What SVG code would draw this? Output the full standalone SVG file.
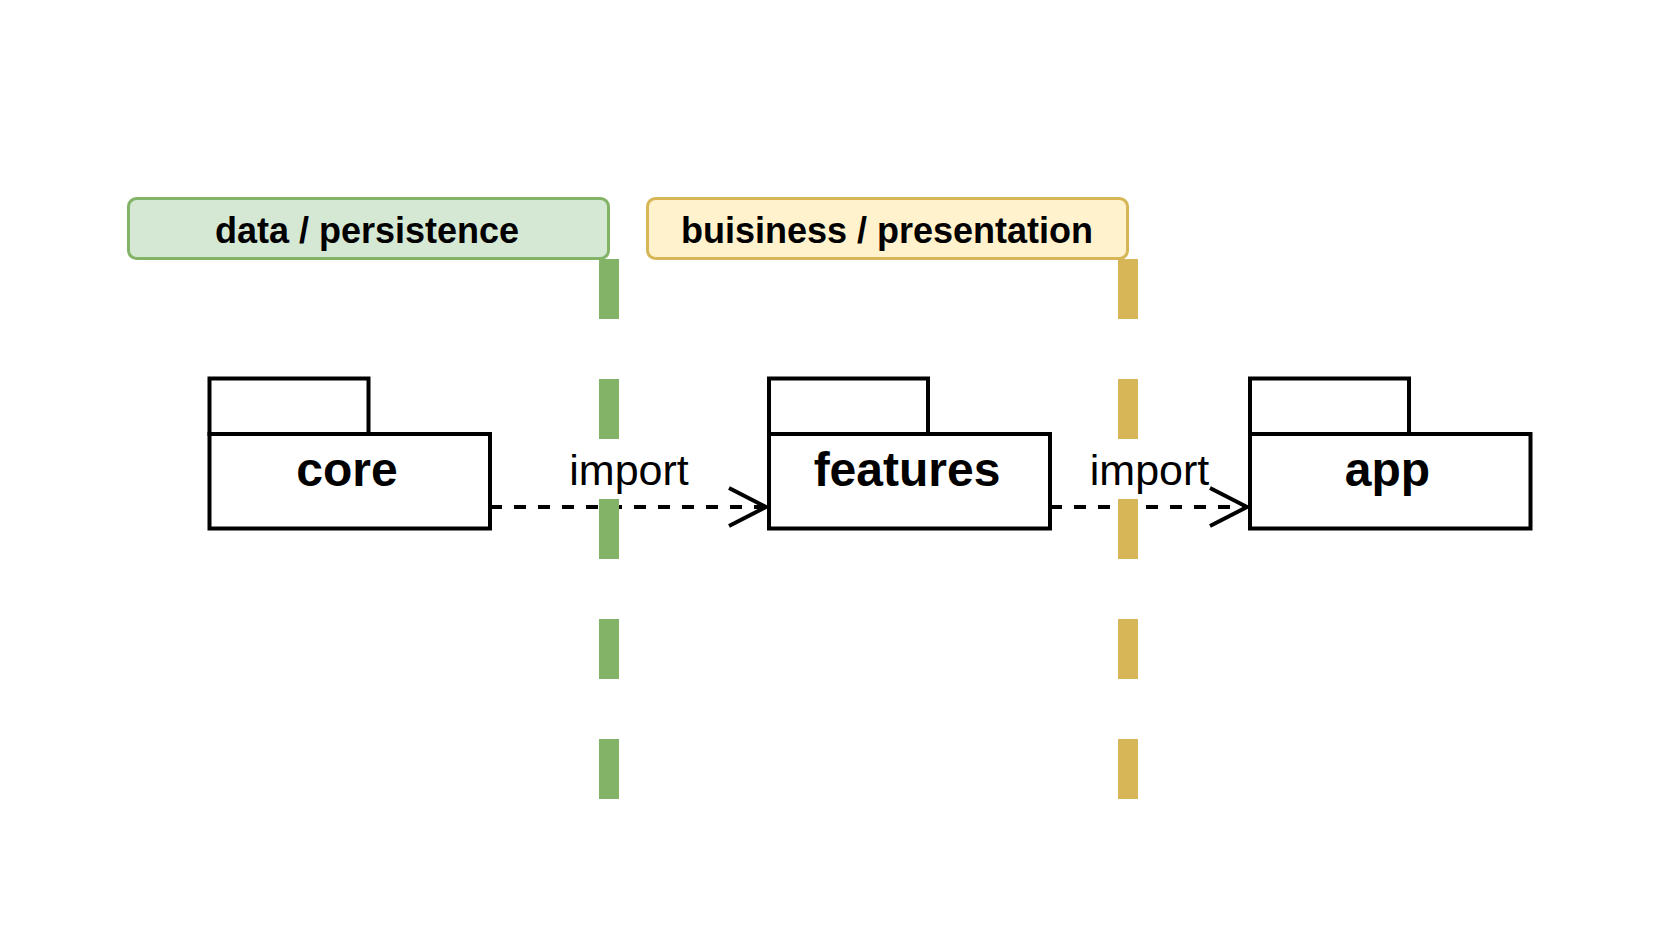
<svg xmlns="http://www.w3.org/2000/svg" width="1657" height="941" viewBox="0 0 1657 941">
  <style>
    .hdr { stroke-width: 3; }
    .hdrtxt { font-family: "Liberation Sans", Arial, sans-serif; font-weight: bold; font-size: 36px; text-anchor: middle; fill: #000; }
    .pkg { fill: #fff; stroke: #000; stroke-width: 4; }
    .pkgtxt { font-family: "Liberation Sans", Arial, sans-serif; font-weight: bold; font-size: 48px; text-anchor: middle; fill: #000; }
    .edge { fill: none; stroke: #000; stroke-width: 4; stroke-dasharray: 12 12; }
    .head { fill: none; stroke: #000; stroke-width: 4; }
    .lbl { font-family: "Liberation Sans", Arial, sans-serif; font-size: 43px; text-anchor: middle; fill: #000; }
    .bar { fill: none; stroke-width: 20; stroke-dasharray: 60 60; }
  </style>

  <rect width="1657" height="941" fill="#ffffff"/>

  <g id="header-data">
    <rect class="hdr" x="128.5" y="198.5" width="480" height="60" rx="8" ry="8" fill="#d5e8d4" stroke="#82b366"/>
    <text class="hdrtxt" x="367" y="243">data / persistence</text>
  </g>

  <g id="header-business">
    <rect class="hdr" x="647.5" y="198.5" width="480" height="60" rx="8" ry="8" fill="#fff2cc" stroke="#d6b656"/>
    <text class="hdrtxt" x="887" y="243">buisiness / presentation</text>
  </g>

  <g id="pkg-core">
    <rect class="pkg" x="209.5" y="378.5" width="159" height="55.5"/>
    <rect class="pkg" x="209.5" y="434" width="280.5" height="94.5"/>
    <text class="pkgtxt" x="347" y="486">core</text>
  </g>

  <g id="pkg-features">
    <rect class="pkg" x="769" y="378.5" width="159" height="55.5"/>
    <rect class="pkg" x="769" y="434" width="281" height="94.5"/>
    <text class="pkgtxt" x="907" y="486">features</text>
  </g>

  <g id="pkg-app">
    <rect class="pkg" x="1250" y="378.5" width="159" height="55.5"/>
    <rect class="pkg" x="1250" y="434" width="280.5" height="94.5"/>
    <text class="pkgtxt" x="1387.5" y="486">app</text>
  </g>

  <g id="connectors">
    <g id="edge-core-features">
      <line class="edge" x1="490" y1="507" x2="765" y2="507"/>
      <polyline class="head" points="729,488 766,507 729,526"/>
      <text class="lbl" x="629" y="485">import</text>
    </g>
    <g id="edge-features-app">
      <line class="edge" x1="1050" y1="507" x2="1246" y2="507"/>
      <polyline class="head" points="1210,488 1247,507 1210,526"/>
      <text class="lbl" x="1149.5" y="485">import</text>
    </g>
  </g>

  <g id="boundary-data">
    <line class="bar" x1="609" y1="259" x2="609" y2="799" stroke="#82b366"/>
  </g>
  <g id="boundary-business">
    <line class="bar" x1="1128" y1="259" x2="1128" y2="799" stroke="#d6b656"/>
  </g>
</svg>
